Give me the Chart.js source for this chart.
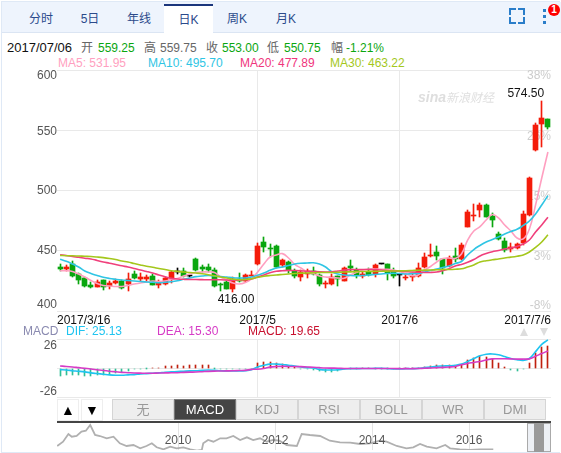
<!DOCTYPE html>
<html>
<head>
<meta charset="utf-8">
<script src="https://cdn.jsdelivr.net/npm/chart.js@4/dist/chart.umd.js"></script>
<style>
  html, body { margin: 0; padding: 0; background: #fff; }
  body { width: 561px; height: 453px; overflow: hidden; position: relative;
    font: 12px "Liberation Sans", "Noto Sans CJK SC", sans-serif; }
  #frame { position: absolute; left: 1px; top: 1px; width: 558px; height: 450px; border: 1px solid #dfe9f6; border-right: 0; }
  #tabbar { position: absolute; left: 2px; top: 2px; width: 559px; height: 30px; background: #eef4fd; border-bottom: 1px solid #dbe5f3; }
  .tab { position: absolute; top: 5px; width: 48px; height: 28px; line-height: 29px; text-align: center; color: #2b4a8b; font-size: 12px; }
  .tab.on { background: #fff; border-top: 2px solid #1b367c; top: 4px; height: 27px; width: 49px; }
  .t { position: absolute; white-space: pre; line-height: 14px; }
  .corner { position: absolute; width: 5px; height: 5px; border: 0 solid #2a7dc9; }
  .dot { position: absolute; left: 543px; width: 3px; height: 3px; background: #2a7dc9; }
  #badge { position: absolute; left: 548px; top: 4px; width: 12px; height: 12px; border-radius: 6px; background: #f00; color: #fff; font-size: 10px; font-weight: bold; line-height: 12px; text-align: center; }
  canvas { position: absolute; }
  .btn { position: absolute; top: 399px; height: 19px; line-height: 19px; text-align: center; background: #eee; border: 1px solid #d5d5d5; color: #999; font-size: 13px; box-sizing: content-box; width: 60px; }
  .btn.on { background: #444; color: #fff; border-color: #777; }
  .arrow { position: absolute; top: 399px; width: 20px; height: 20px; border: 1px solid #eee; text-align: center; line-height: 20px; font-size: 14px; color: #000; }
  .tri { position: absolute; top: 328px; width: 0; height: 0; border-left: 4px solid transparent; border-right: 4px solid transparent; }
  #topbar { position: absolute; left: 57px; top: 421px; width: 494px; height: 2px; background: #444; }
  #slider { position: absolute; left: 527px; top: 423px; width: 22px; height: 27px; border: 1px solid #aaa; background: rgba(225,230,238,.6); }
  #handle { position: absolute; left: 534px; top: 423px; width: 10px; height: 29px; background: #9a9a9a; }
</style>
</head>
<body>
<div id="frame"></div>
<div id="tabbar"></div>
<div class="tab" style="left:17px">分时</div>
<div class="tab" style="left:66px">5日</div>
<div class="tab" style="left:115px">年线</div>
<div class="tab on" style="left:164px">日K</div>
<div class="tab" style="left:213px">周K</div>
<div class="tab" style="left:262px">月K</div>

<div class="corner" style="left:509px;top:8px;border-width:2px 0 0 2px"></div>
<div class="corner" style="left:518px;top:8px;border-width:2px 2px 0 0"></div>
<div class="corner" style="left:509px;top:17px;border-width:0 0 2px 2px"></div>
<div class="corner" style="left:518px;top:17px;border-width:0 2px 2px 0"></div>
<div class="dot" style="top:9px"></div>
<div class="dot" style="top:15px"></div>
<div class="dot" style="top:21px"></div>
<div id="badge">1</div>

<!-- quote line -->
<div class="t" style="left:7px;top:41px;font-size:13px;color:#111">2017/07/06</div>
<div class="t" style="left:81px;top:41px;color:#666">开</div>
<div class="t" style="left:98px;top:41px;color:#0aa60f">559.25</div>
<div class="t" style="left:144px;top:41px;color:#666">高</div>
<div class="t" style="left:160px;top:41px;color:#666">559.75</div>
<div class="t" style="left:206px;top:41px;color:#666">收</div>
<div class="t" style="left:222px;top:41px;color:#0aa60f">553.00</div>
<div class="t" style="left:267px;top:41px;color:#666">低</div>
<div class="t" style="left:284px;top:41px;color:#0aa60f">550.75</div>
<div class="t" style="left:331px;top:41px;color:#666">幅</div>
<div class="t" style="left:346px;top:41px;color:#0aa60f">-1.21%</div>

<!-- moving average legend -->
<div class="t" style="left:58px;top:56px;color:#ff9fc0">MA5: 531.95</div>
<div class="t" style="left:148px;top:56px;color:#2fc5e4">MA10: 495.70</div>
<div class="t" style="left:240px;top:56px;color:#f0357c">MA20: 477.89</div>
<div class="t" style="left:330px;top:56px;color:#a4c71c">MA30: 463.22</div>

<canvas id="mainChart" width="561" height="265" style="left:0;top:65px"></canvas>

<div class="t" style="left:418px;top:90px;color:#dedede;font-size:14px;font-weight:bold;font-style:italic">sina</div>
<div class="t" style="left:446px;top:91px;color:#e0e0e0;font-size:12px;font-style:italic">新浪财经</div>

<!-- MACD legend -->
<div class="t" style="left:23px;top:324px;color:#8a8ab0">MACD</div>
<div class="t" style="left:66px;top:324px;color:#1fc4f0">DIF: 25.13</div>
<div class="t" style="left:157px;top:324px;color:#d63bc6">DEA: 15.30</div>
<div class="t" style="left:248px;top:324px;color:#c8102e">MACD: 19.65</div>
<div class="tri" style="left:520px;border-bottom:8px solid #ddd"></div>
<div class="tri" style="left:540px;border-top:8px solid #ddd"></div>

<canvas id="macdChart" width="561" height="68" style="left:0;top:334px"></canvas>

<div class="arrow" style="left:57px">▲</div>
<div class="arrow" style="left:81px">▼</div>
<div class="btn" style="left:112px">无</div>
<div class="btn on" style="left:174px">MACD</div>
<div class="btn" style="left:236px">KDJ</div>
<div class="btn" style="left:298px">RSI</div>
<div class="btn" style="left:360px">BOLL</div>
<div class="btn" style="left:422px">WR</div>
<div class="btn" style="left:484px">DMI</div>

<canvas id="overviewChart" width="494" height="27" style="left:57px;top:423px"></canvas>
<div id="topbar"></div>
<div id="slider"></div>
<div id="handle"></div>

<script>
// Daily candles
const opens = [436.5,435.1,439,430.7,427.4,421.8,420.2,425.5,420.8,423,424.7,422.2,431,426.8,426.3,429,421.6,422.4,427.4,432.6,
  433,429,443.2,436.5,436.5,433.8,422.7,424.1,418,426.8,424.9,429.3,438.8,457.3,452.5,454.2,437.9,440.7,433.2,428.6,
  431.1,433.2,429.9,422.2,422.4,428.8,425.1,437.1,434,429,432.1,430.5,438.8,439,433.4,429.9,427.6,428.5,429.3,436.5,
  445.7,449.2,443.2,437.4,445.7,442.9,470,479.1,483.8,488,479.1,463.7,458.1,451.5,452.3,456.2,479.7,533.6,555.2,559.25];
const closes = [434.9,436.5,429,425.7,420.8,420.2,423.8,420.2,423.2,425.1,419.1,426.3,427.4,428,428.5,421.6,424.1,427.1,432.4,432.6,
  429.4,429,434.3,435.1,434.3,420.8,421.8,418.5,426.8,424.7,429.6,430.1,454,453.1,451.7,436.5,442.3,433.8,429,432.4,
  433.2,430.5,422.4,423,428,426.3,435.7,435.9,429.9,430.7,429.9,438.2,438.8,431.3,429.3,429.9,428.5,429,435.4,444.8,
  446.2,445.4,435.4,444.2,443.4,454.8,481.9,479.7,488,478.3,475.5,460,450.6,453.1,455.4,480.5,510.6,554.4,560.2,553];
const highs = [439,437.8,441.5,431.5,428,423.8,425.7,426,424.9,426.3,425.7,431.8,433.4,431.3,430.1,430.7,425.7,428,433.4,435.7,
  435.4,429.4,444.2,437.9,439.3,435.7,423.2,425.5,428.2,431.8,431,433.4,456.7,461.4,455.9,455,443.4,441.5,434.6,434.3,
  434.9,436.8,430.4,425.1,430.5,429.2,436.3,442.1,435.4,432.6,435.4,438.8,439,439.3,435.4,430.5,430.5,431.3,440.1,447.9,
  455.4,454,443.5,445.9,452,456.7,484.1,488.8,489.4,488.8,481.1,465.3,460.3,456.2,456.7,483.2,511.2,555.8,574.5,559.75];
const lows = [433.2,433.4,428.5,422.4,420.2,419.1,419.9,417.4,418.3,422.2,418.5,416.5,426.3,425.1,424.1,421.3,418.8,421.6,423,430.7,
  428.5,428.6,433.2,432.4,432.4,419.9,416.3,418,416,424.1,424.1,428.8,437.9,449,444.8,435.7,436.5,431.8,427.6,425.3,
  427.6,430.2,421,419.3,421.6,420.8,424.7,433.2,427.6,427.1,429.3,428.5,438.6,425.7,427.1,420.8,425.7,424.9,428.5,435.9,
  445.1,442.3,430.7,436.8,440.9,442.3,469.5,474.7,477.8,478,470,458.9,448.7,448.7,451.5,454.8,478.5,533,536.4,550.75];

// Moving averages
const ma5 = [433.4,433.4,432.8,430.7,428.2,425.3,422.8,421.2,420.8,420.3,420.3,421.2,422.4,423.2,424.1,424.9,424.5,424.9,426.1,427,
  429,430.7,432,432.4,432.4,432,428.2,425.7,423.2,422.4,423.7,426.6,432.4,439,444.8,446.5,447.6,444,438.6,435.7,
  432.4,431.1,429,428.2,427.6,427.4,427.1,429.9,432.1,434,434.9,434.9,434.7,434.6,434,432.8,430.7,429.3,429.9,434,
  436.9,440.7,443.6,444,443.6,447.3,458.9,466.4,470,475.5,480.1,477.2,471.4,466.4,460.6,459.8,468.1,488,510.4,531.95];
const ma10 = [442.9,441.3,439,436.5,433.2,431.1,429.5,428,427,426.3,425.7,425.3,424.9,424.5,424.1,423.8,423.5,423.8,424.3,425.1,
  426.3,427.4,428.5,429,429.5,429,428.6,428.2,427.6,427.4,427.4,428.2,429.6,431.5,433.8,435.7,436.5,437.8,439,439.6,
  439.8,440,439,436.5,432.6,430.7,429.9,429.5,429.3,429.4,429.9,430.3,430.7,431.1,431.3,431.1,430.7,431,431.1,432.4,
  433.6,434.9,436.1,437.4,439.4,441.1,446.5,451,454.4,457.3,459.3,461.4,463.9,466,467.8,471,474.7,480.5,488,495.7];
const ma20 = [446.7,446.1,445.2,444.6,443.8,443.2,441.9,440.7,439.7,438.6,437.5,436.5,435.3,434,432.8,431.5,429.9,428.4,427.1,426.6,
  426.3,426.1,426.1,426,425.9,426,425.9,425.7,425.5,425.6,425.9,426.6,428.2,429.9,431.7,433,433.4,433.7,433.6,433.4,
  433,432.8,432.5,432.4,432.5,433.2,433.9,434.3,434.4,434.4,434.4,434.3,434,433.6,433.2,433,432.7,432.4,432.2,432,
  432,432.4,433.6,435.1,437.4,438.6,440.4,442.7,445.7,447.7,449.2,450.2,451.5,452.3,453.5,455.6,458.9,465.6,471.4,477.89];
const ma30 = [446.1,445.9,445.8,445.6,445.4,445.2,444.8,444.3,443.6,442.7,441.5,440.7,439.4,438.2,437.1,436.3,435.3,434.4,433.4,432.9,
  432.4,432,431.5,430.9,430.1,429.2,428.2,427.4,426.3,425.9,426.1,426.7,428,428.8,429.4,429.9,430.3,430.7,431.1,431.4,
  431.5,431.7,431.9,432,432,432.1,432.4,432.5,432.7,432.8,432.9,432.9,433,433.1,433.2,433.3,433.4,433.6,433.8,433.9,
  434,434.2,434.4,434.5,434.7,435,436.5,438.2,440.7,441.7,442.5,443.2,444,444.7,445.5,446.5,449,452.7,457.3,463.22];

// MACD panel
const macdBars = [-7.3,-6.6,-6.4,-6.4,-7,-7.3,-6.4,-5.9,-5.3,-4.4,-3.5,-2.4,-1.1,-0.9,-0.3,0.1,0.2,1.8,2,2.3,
  2,2.3,2.9,2.9,2.6,-0.4,-0.9,-0.9,-1.3,-1.3,-1.3,-0.9,4.4,5.7,5.3,4.4,3.5,2.2,1.3,-0.9,
  -1.3,-1.6,-2.9,-3.5,-3.5,-2.9,-0.9,-0.3,-0.2,0.2,0.1,-0.2,-0.2,-0.3,-0.6,-0.3,0.1,0.2,0.2,0.9,
  1.8,2.6,2.3,2.3,2,2.6,6.8,8.8,10.8,10,8.5,4.7,0.6,-1.5,-2.4,-0.6,4.4,13.2,18.5,19.65];
const dif = [-1.5,-1.8,-2.4,-2.9,-3.5,-4.4,-5,-5.6,-6.2,-6.5,-6.5,-6.2,-5.9,-5.3,-5,-4.7,-4.4,-3.8,-3.5,-3.2,
  -2.9,-2.6,-2.4,-2,-1.8,-2,-2.4,-2.6,-2.6,-2.6,-2.4,-1.5,0.9,2.4,3.5,3.5,3.2,2.4,1.8,0.9,
  0.3,0,-1.2,-1.8,-1.8,-1.5,-0.9,-0.6,-0.6,-0.5,-0.5,-0.3,-0.3,-0.6,-0.9,-0.9,-0.6,-0.6,-0.3,0.3,
  0.9,1.5,1.8,2,2.4,3.5,5.9,8.5,10.9,12.4,12.6,11.8,10.3,8.5,7.4,6.8,8.5,14.7,21.2,25.13];
const dea = [1.8,1.4,0.9,0.3,-0.3,-0.9,-1.6,-2.3,-2.9,-3.4,-3.9,-4.2,-4.5,-4.6,-4.7,-4.7,-4.5,-4.4,-4.3,-4.2,
  -3.9,-3.7,-3.6,-3.3,-3,-2.8,-2.7,-2.6,-2.5,-2.3,-2.1,-1.2,-1.1,-0.4,0.8,1.3,1.5,1.4,1.3,1.2,
  0.9,0.7,0.3,0,-0.1,-0.2,-0.4,-0.5,-0.5,-0.5,-0.5,-0.4,-0.4,-0.4,-0.5,-0.6,-0.6,-0.6,-0.5,-0.2,
  0,0.3,0.6,0.9,1.3,2.9,4.1,5,5.9,7.2,8.2,8.3,8.3,8.2,8,8,8.2,10.5,13,15.3];

// Ticks of the three panels
const priceTicks = [600,550,500,450,400];
const percentTicks = ["38%","26%","15%","3%","-8%"];
const macdTicks = [26,-26];
const dateTickIndex = [0,32,55,79];
const dateTickLabels = ["2017/3/16","2017/5","2017/6","2017/7/6"];
const yearTicks = [2010,2012,2014,2016];

// Long history strip at the bottom
const overviewYears = [2007.51,2007.63,2007.74,2007.81,2007.91,2008.01,2008.1,2008.19,2008.29,2008.39,2008.53,2008.67,2008.8,2008.94,2009.08,
  2009.22,2009.35,2009.46,2009.56,2009.7,2009.84,2009.97,2010.11,2010.25,2010.39,2010.49,2010.52,2010.62,2010.73,2010.87,
  2011,2011.14,2011.28,2011.42,2011.55,2011.69,2011.83,2011.96,2012.09,2012.24,2012.45,2012.55,2012.72,2012.93,2013.13,
  2013.34,2013.55,2013.75,2013.96,2014.16,2014.3,2014.51,2014.71,2014.85,2014.99,2015.13,2015.33,2015.51,2015.61,2015.81,
  2016.02,2016.23,2016.5];
const overviewLevel = [4,8.3,16,13.3,14,18.3,19.3,25,15,14,11.7,13.3,6.7,4,5,
  1.7,4,6.7,2.7,0.7,3.3,1.7,2.7,0.7,-0.7,0,6.7,10,8.3,11.7,
  11.7,14,10,12.7,10,11.7,8.3,10,9.3,5,4,16,15,14,9.3,
  7.7,7.3,6,6.7,9.3,8.3,4,1.7,2.7,6,3.3,1.7,5,1.7,0.7,
  0,0.7,0.7];

const RED = "#f41c0a";
const GREEN = "#0aa60f";
const FONT = '12px "Liberation Sans", sans-serif';
const candleDays = opens.map((_, i) => i);

function candleColor(i) {
  if (closes[i] > opens[i]) return RED;
  if (closes[i] < opens[i]) return GREEN;
  return "#000";
}

function maLine(values, color) {
  return {
    type: "line",
    data: values,
    borderColor: color,
    borderWidth: 1.6,
    pointRadius: 0,
    tension: 0.4,
    order: 0,
  };
}

function drawText(ctx, text, x, y, align, color) {
  ctx.save();
  ctx.font = FONT;
  ctx.fillStyle = color;
  ctx.textAlign = align;
  ctx.textBaseline = "middle";
  ctx.fillText(text, x, y + 1);
  ctx.restore();
}

// Keep thin bars on whole pixels so the wicks stay crisp
const snapBars = {
  id: "snapBars",
  afterDatasetsUpdate(chart) {
    chart.getSortedVisibleDatasetMetas().forEach((meta) => {
      if (meta.type !== "bar") return;
      meta.data.forEach((bar) => {
        bar.x = Math.floor(bar.x) + 0.5;
        bar.y = Math.round(bar.y);
        bar.base = Math.round(bar.base);
      });
    });
  },
};

// Tick text sits under the candles, and the end labels lean into the panel
const mainText = {
  id: "mainText",
  beforeDatasetsDraw(chart) {
    const { ctx, scales, chartArea } = chart;
    const leftShift = [5, 0, -1, -1, -7];
    priceTicks.forEach((v, i) => {
      const y = scales.y.getPixelForValue(v);
      drawText(ctx, String(v), chartArea.left, y + leftShift[i], "right", "#555");
      drawText(ctx, percentTicks[i], chartArea.right, y + (i === priceTicks.length - 1 ? -6 : 5), "right", "#ccc");
    });
    dateTickIndex.forEach((idx, i) => {
      let x = scales.x.getPixelForValue(idx);
      let align = "center";
      if (i === 0) { x = chartArea.left; align = "left"; }
      if (i === dateTickIndex.length - 1) { x = chartArea.right; align = "right"; }
      drawText(ctx, dateTickLabels[i], x, chartArea.bottom + 9, align, "#111");
    });
  },
  afterDatasetsDraw(chart) {
    const { ctx, scales } = chart;
    const top = highs.indexOf(Math.max(...highs));
    const bottom = lows.indexOf(Math.min(...lows));
    drawText(ctx, highs[top].toFixed(2), scales.x.getPixelForValue(top) - 16, scales.y.getPixelForValue(highs[top]) - 8, "center", "#111");
    drawText(ctx, lows[bottom].toFixed(2), scales.x.getPixelForValue(bottom) + 3, scales.y.getPixelForValue(lows[bottom]) + 7, "center", "#111");
  },
};

const macdText = {
  id: "macdText",
  afterDraw(chart) {
    const { ctx, scales, chartArea } = chart;
    drawText(ctx, String(macdTicks[0]), chartArea.left, scales.y.getPixelForValue(macdTicks[0]) + 6, "right", "#555");
    drawText(ctx, String(macdTicks[1]), chartArea.left, scales.y.getPixelForValue(macdTicks[1]) - 6, "right", "#555");
  },
};

const overviewText = {
  id: "overviewText",
  afterDraw(chart) {
    yearTicks.forEach((yr) => {
      drawText(chart.ctx, String(yr), chart.scales.x.getPixelForValue(yr), 17, "center", "#555");
    });
  },
};

function hiddenTickAxis(extra) {
  return Object.assign({
    border: { display: false },
    ticks: { display: false },
  }, extra);
}

// Vertical lines only where a month starts
function monthGrid() {
  return {
    offset: false,
    drawTicks: false,
    color: (c) => (c.tick && (c.tick.value === dateTickIndex[1] || c.tick.value === dateTickIndex[2]) ? "#e9e9e9" : "rgba(0,0,0,0)"),
  };
}

new Chart(document.getElementById("mainChart"), {
  type: "bar",
  data: {
    labels: candleDays,
    datasets: [
      maLine(ma30, "#a4c71c"),
      maLine(ma20, "#f0407c"),
      maLine(ma10, "#2fc5e4"),
      maLine(ma5, "#ff9fc0"),
      {
        // body
        data: candleDays.map((i) => [opens[i], closes[i]]),
        backgroundColor: candleDays.map(candleColor),
        barThickness: 5,
        minBarLength: 1,
        grouped: false,
        order: 1,
      },
      {
        // wick
        data: candleDays.map((i) => [lows[i], highs[i]]),
        backgroundColor: candleDays.map(candleColor),
        barThickness: 1,
        grouped: false,
        order: 2,
      },
    ],
  },
  options: {
    responsive: false,
    animation: false,
    layout: { padding: { left: 57, right: 10, top: 5, bottom: 19 } },
    plugins: { legend: { display: false }, tooltip: { enabled: false } },
    scales: {
      x: hiddenTickAxis({ offset: true, grid: monthGrid() }),
      y: hiddenTickAxis({
        min: 400,
        max: 600,
        ticks: { display: false, stepSize: 50 },
        grid: { drawTicks: false, color: "#e9e9e9" },
      }),
    },
  },
  plugins: [snapBars, mainText],
});

new Chart(document.getElementById("macdChart"), {
  type: "bar",
  data: {
    labels: candleDays,
    datasets: [
      { type: "line", data: dea, borderColor: "#d63bc6", borderWidth: 1.6, pointRadius: 0, tension: 0.4, order: 0 },
      { type: "line", data: dif, borderColor: "#1fc4f0", borderWidth: 1.6, pointRadius: 0, tension: 0.4, order: 1 },
      {
        data: macdBars,
        backgroundColor: macdBars.map((v) => (v >= 0 ? "#c0200f" : "#2fbf95")),
        barThickness: 1,
        order: 2,
      },
    ],
  },
  options: {
    responsive: false,
    animation: false,
    layout: { padding: { left: 57, right: 10, top: 5, bottom: 5 } },
    plugins: { legend: { display: false }, tooltip: { enabled: false } },
    scales: {
      x: hiddenTickAxis({ offset: true, grid: monthGrid() }),
      y: hiddenTickAxis({
        min: -26,
        max: 26,
        ticks: { display: false, stepSize: 26 },
        grid: { drawTicks: false, color: "#e9e9e9" },
      }),
    },
  },
  plugins: [snapBars, macdText],
});

new Chart(document.getElementById("overviewChart"), {
  type: "line",
  data: {
    datasets: [{
      data: overviewYears.map((yr, i) => ({ x: yr, y: overviewLevel[i] })),
      borderColor: "#b0b0b0",
      borderWidth: 1.8,
      pointRadius: 0,
    }],
  },
  options: {
    responsive: false,
    animation: false,
    layout: { padding: 0 },
    plugins: { legend: { display: false }, tooltip: { enabled: false } },
    scales: {
      x: hiddenTickAxis({
        type: "linear",
        min: 2007.505,
        max: 2017.69,
        afterBuildTicks: (axis) => { axis.ticks = yearTicks.map((value) => ({ value })); },
        grid: { drawTicks: false, color: "#e4e4e4" },
      }),
      y: { display: false, min: 0, max: 27 },
    },
  },
  plugins: [overviewText],
});
</script>
</body>
</html>
